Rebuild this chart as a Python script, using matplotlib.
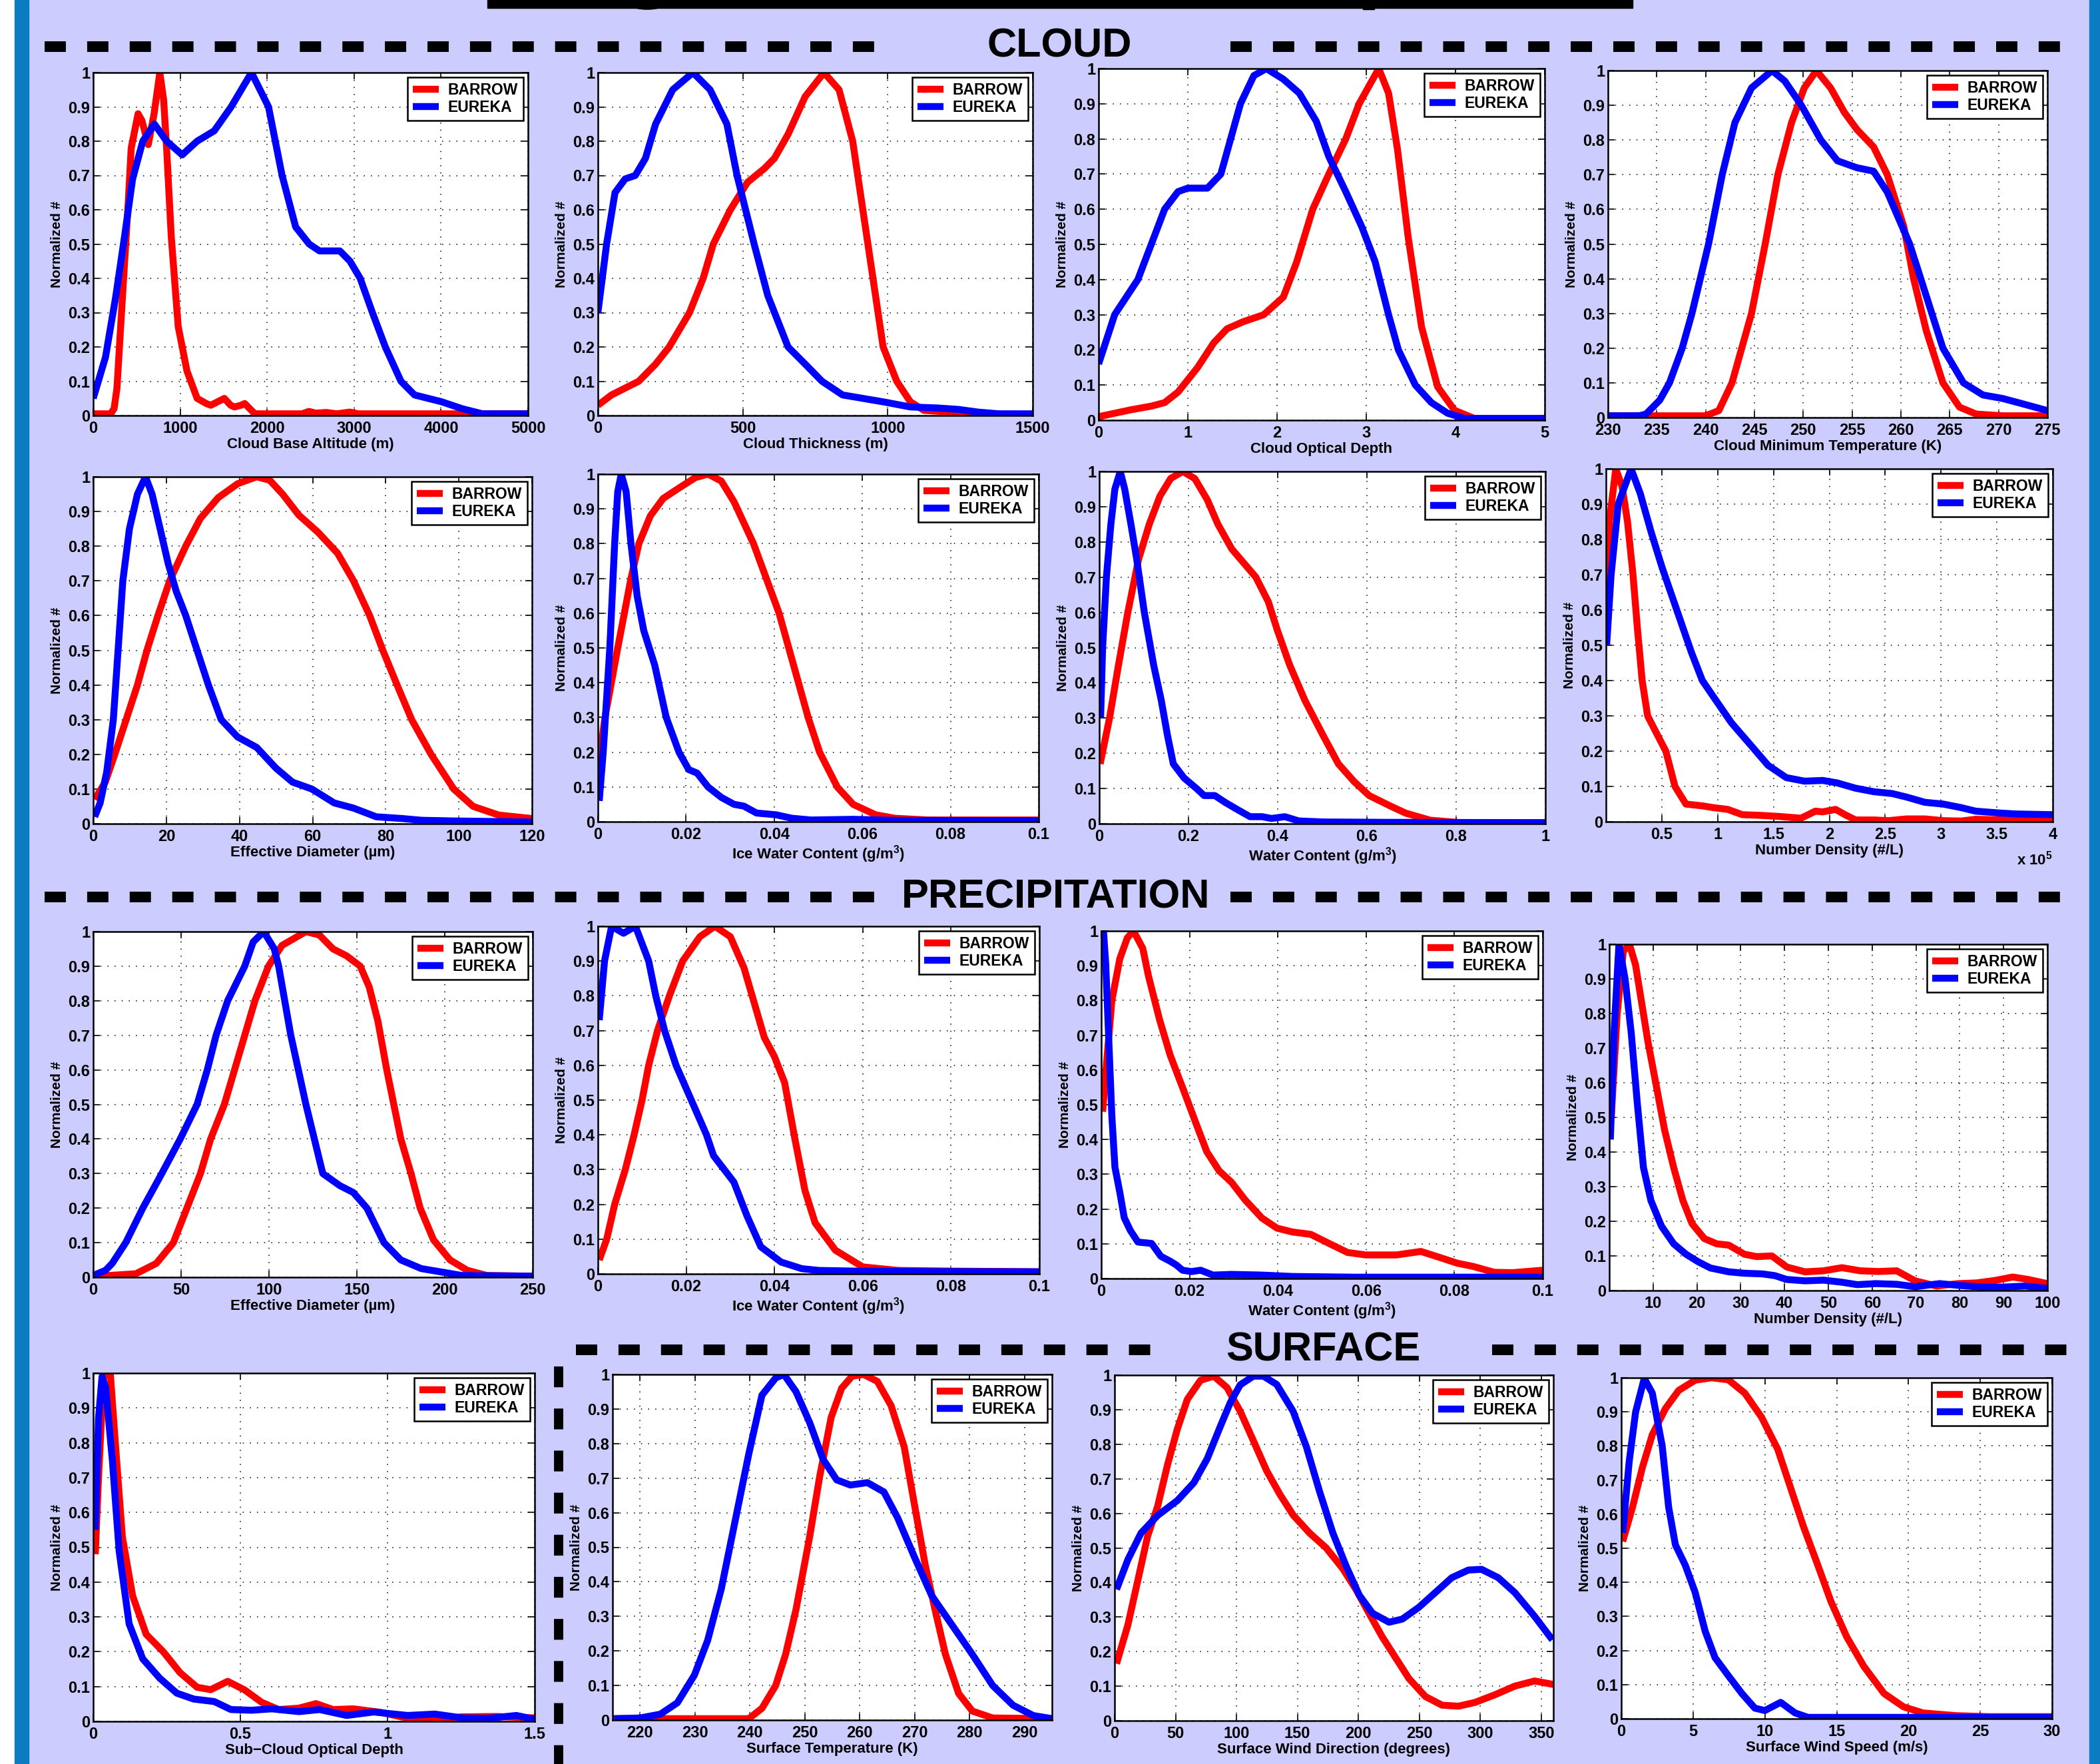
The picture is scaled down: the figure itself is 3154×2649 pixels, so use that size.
import matplotlib.pyplot as plt
from matplotlib.lines import Line2D
from matplotlib.patches import Rectangle, Ellipse

# canvas size in pixels (saved at dpi=100)
W, H = 3154, 2649
BG = '#CCCCFF'
EDGE = '#0B7CC1'

plt.rcParams['font.family'] = ['Liberation Sans', 'DejaVu Sans']
plt.rcParams['font.weight'] = 'bold'
plt.rcParams['mathtext.fontset'] = 'custom'
plt.rcParams['mathtext.rm'] = 'Liberation Sans:bold'
plt.rcParams['mathtext.bf'] = 'Liberation Sans:bold'
plt.rcParams['mathtext.default'] = 'bf'

# ---------------- CLOUD ----------------
# cloud base altitude (m)
base_alt_barrow_x = [0, 200, 240, 273, 336, 398, 437, 516, 560, 633, 700, 766, 810, 844, 898, 977, 1078, 1195, 1300, 1352,
                     1430, 1508, 1580, 1625, 1700, 1742, 1800, 1859, 1900, 2400, 2480, 2560, 2680, 2800, 2950, 3050, 5000]
base_alt_barrow_y = [0.005, 0.005, 0.02, 0.08, 0.345, 0.6, 0.78, 0.88, 0.86, 0.79, 0.88, 1.0, 0.92, 0.78, 0.52, 0.26, 0.13, 0.05, 0.035, 0.03,
                     0.04, 0.05, 0.03, 0.025, 0.03, 0.035, 0.02, 0.005, 0.005, 0.005, 0.012, 0.007, 0.009, 0.005, 0.01, 0.005, 0.005]
base_alt_eureka_x = [0, 141, 258, 359, 453, 570, 703, 844, 1023, 1195, 1391, 1586, 1820, 2016, 2172, 2328, 2484, 2602, 2836, 2953,
                     3070, 3211, 3359, 3539, 3695, 3852, 4008, 4242, 4477, 5000]
base_alt_eureka_y = [0.05, 0.17, 0.345, 0.52, 0.69, 0.8, 0.85, 0.8, 0.76, 0.8, 0.83, 0.9, 1.0, 0.9, 0.7, 0.55, 0.5, 0.48, 0.48, 0.45,
                     0.4, 0.3, 0.2, 0.1, 0.06, 0.05, 0.04, 0.02, 0.005, 0.005]

# cloud thickness (m)
thick_barrow_x = [0, 47, 94, 141, 199, 246, 316, 363, 398, 457, 516, 574, 609, 656, 715, 780, 832, 879, 914, 949,
                  984, 1031, 1078, 1125, 1219, 1266, 1312, 1500]
thick_barrow_y = [0.03, 0.06, 0.08, 0.1, 0.15, 0.2, 0.3, 0.4, 0.5, 0.6, 0.68, 0.72, 0.75, 0.82, 0.93, 1.0, 0.95, 0.8, 0.6, 0.4,
                  0.2, 0.1, 0.04, 0.015, 0.01, 0.01, 0.005, 0.003]
thick_eureka_x = [0, 30, 59, 94, 129, 164, 199, 258, 328, 387, 445, 480, 539, 586, 656, 715, 773, 844, 914, 984,
                  1078, 1172, 1242, 1312, 1383, 1500]
thick_eureka_y = [0.3, 0.5, 0.65, 0.69, 0.7, 0.75, 0.85, 0.95, 1.0, 0.95, 0.85, 0.7, 0.5, 0.35, 0.2, 0.15, 0.1, 0.06, 0.05, 0.04,
                  0.025, 0.022, 0.018, 0.01, 0.005, 0.005]

# cloud optical depth
tau_barrow_x = [0, 0.37, 0.59, 0.74, 0.89, 1.11, 1.29, 1.44, 1.62, 1.85, 2.07, 2.22, 2.40, 2.58, 2.77, 2.92, 3.14, 3.25, 3.35, 3.47,
                3.62, 3.80, 3.99, 4.21, 5.0]
tau_barrow_y = [0.01, 0.03, 0.04, 0.05, 0.08, 0.15, 0.22, 0.26, 0.28, 0.3, 0.35, 0.45, 0.6, 0.7, 0.8, 0.9, 1.0, 0.93, 0.77, 0.52,
                0.265, 0.095, 0.028, 0.005, 0.005]
tau_eureka_x = [0, 0.18, 0.44, 0.59, 0.74, 0.89, 1.0, 1.22, 1.37, 1.48, 1.59, 1.74, 1.88, 2.07, 2.25, 2.44, 2.58, 2.77, 2.95, 3.10,
                3.25, 3.36, 3.55, 3.73, 3.91, 4.10, 5.0]
tau_eureka_y = [0.16, 0.3, 0.4, 0.5, 0.6, 0.65, 0.66, 0.66, 0.7, 0.8, 0.9, 0.98, 1.0, 0.97, 0.93, 0.85, 0.75, 0.65, 0.55, 0.45,
                0.3, 0.2, 0.1, 0.05, 0.02, 0.005, 0.005]

# cloud minimum temperature (K)
tmin_barrow_x = [230, 240.0, 241.35, 242.7, 243.7, 244.7, 246.1, 247.4, 248.8, 250.1, 251.35, 252.8, 254.2, 255.5, 257.2, 258.6,
                 260.3, 261.3, 262.6, 264.3, 266.0, 267.7, 270.4, 275]
tmin_barrow_y = [0.005, 0.005, 0.02, 0.1, 0.2, 0.3, 0.5, 0.7, 0.85, 0.95, 1.0, 0.95, 0.88, 0.83, 0.78, 0.7,
                 0.55, 0.4, 0.25, 0.1, 0.03, 0.01, 0.005, 0.005]
tmin_eureka_x = [230, 233.2, 233.9, 235.3, 236.3, 237.6, 238.6, 240.3, 241.7, 243.0, 244.7, 246.8, 248.1, 249.8, 251.8, 253.5,
                 255.5, 257.2, 258.6, 260.9, 262.6, 264.3, 266.4, 268.4, 270.4, 272.4, 275]
tmin_eureka_y = [0.005, 0.005, 0.01, 0.05, 0.1, 0.2, 0.3, 0.5, 0.7, 0.85, 0.95, 1.0, 0.97, 0.9, 0.8, 0.74,
                 0.72, 0.71, 0.65, 0.5, 0.35, 0.2, 0.1, 0.065, 0.055, 0.04, 0.02]

# cloud effective diameter (um)
cdeff_barrow_x = [0.4, 3.3, 5.9, 9.0, 12.1, 14.7, 17.7, 20.9, 25.3, 29.3, 34.2, 39.5, 44.7, 48.3, 51.8, 56.2, 61.5, 66.8, 71.2, 75.6,
                  79.2, 83.1, 87.1, 92.4, 98.6, 103.9, 110.9, 120]
cdeff_barrow_y = [0.07, 0.12, 0.2, 0.3, 0.4, 0.5, 0.6, 0.7, 0.8, 0.88, 0.94, 0.98, 1.0, 0.99, 0.95, 0.89, 0.84, 0.78, 0.7, 0.6,
                  0.5, 0.4, 0.3, 0.2, 0.1, 0.05, 0.025, 0.015]
cdeff_eureka_x = [0.4, 1.9, 3.7, 5.5, 6.8, 8.1, 9.9, 12.1, 14.3, 16.1, 18.3, 20.5, 22.7, 25.3, 28.4, 31.5, 35.0, 39.5, 44.7, 50.0,
                  54.5, 59.8, 65.9, 71.2, 77.4, 84.5, 89.8, 98.6, 120]
cdeff_eureka_y = [0.02, 0.06, 0.15, 0.3, 0.5, 0.7, 0.85, 0.95, 1.0, 0.95, 0.85, 0.75, 0.67, 0.6, 0.5, 0.4, 0.3, 0.25, 0.22, 0.16,
                  0.12, 0.1, 0.06, 0.045, 0.02, 0.015, 0.01, 0.008, 0.005]

# cloud ice water content (g/m3)
ciwc_barrow_x = [0, 0.0016, 0.0045, 0.0075, 0.0093, 0.0119, 0.0148, 0.0184, 0.0221, 0.025, 0.028, 0.0309, 0.0353, 0.0382, 0.0411,
                 0.0433, 0.0455, 0.0477, 0.0503, 0.0543, 0.0579, 0.063, 0.0674, 0.0748, 0.1]
ciwc_barrow_y = [0.15, 0.3, 0.5, 0.7, 0.8, 0.88, 0.93, 0.96, 0.99, 1.0, 0.98, 0.92, 0.8, 0.7, 0.6,
                 0.5, 0.4, 0.3, 0.2, 0.1, 0.05, 0.02, 0.01, 0.005, 0.005]
ciwc_eureka_x = [0.0003, 0.0012, 0.0027, 0.0038, 0.0045, 0.0053, 0.0064, 0.0075, 0.0089, 0.0104, 0.0129, 0.0155, 0.0184, 0.0206,
                 0.0225, 0.025, 0.028, 0.0309, 0.0331, 0.036, 0.0404, 0.044, 0.0484, 0.0579, 0.0674, 0.1]
ciwc_eureka_y = [0.06, 0.2, 0.5, 0.8, 0.95, 1.0, 0.95, 0.8, 0.65, 0.55, 0.45, 0.3, 0.2, 0.15,
                 0.14, 0.1, 0.07, 0.05, 0.045, 0.025, 0.02, 0.01, 0.005, 0.007, 0.004, 0.003]

# cloud water content (g/m3)
cwc_barrow_x = [0.002, 0.023, 0.043, 0.064, 0.088, 0.112, 0.136, 0.16, 0.187, 0.214, 0.242, 0.266, 0.297, 0.324, 0.351, 0.379,
                0.399, 0.427, 0.461, 0.502, 0.536, 0.571, 0.605, 0.653, 0.687, 0.742, 0.81, 1.0]
cwc_barrow_y = [0.17, 0.3, 0.45, 0.6, 0.75, 0.85, 0.93, 0.98, 1.0, 0.98, 0.92, 0.85, 0.78, 0.74, 0.7, 0.63,
                0.55, 0.45, 0.35, 0.25, 0.17, 0.12, 0.08, 0.05, 0.03, 0.01, 0.003, 0.003]
cwc_eureka_x = [0.003, 0.0075, 0.016, 0.026, 0.035, 0.047, 0.057, 0.071, 0.084, 0.101, 0.122, 0.139, 0.153, 0.166, 0.19, 0.218,
                0.235, 0.259, 0.283, 0.31, 0.338, 0.365, 0.386, 0.416, 0.447, 0.502, 0.64, 1.0]
cwc_eureka_y = [0.3, 0.5, 0.7, 0.85, 0.95, 1.0, 0.95, 0.85, 0.75, 0.6, 0.45, 0.35, 0.25, 0.17, 0.13, 0.1,
                0.08, 0.08, 0.06, 0.04, 0.02, 0.02, 0.015, 0.02, 0.008, 0.005, 0.004, 0.003]

# cloud number density (x 1e5 #/L)
cnd_barrow_x = [0.003, 0.03, 0.088, 0.144, 0.193, 0.242, 0.281, 0.324, 0.373, 0.454, 0.536, 0.618, 0.716, 0.863, 0.96, 1.09, 1.22,
                1.39, 1.55, 1.745, 1.876, 1.94, 2.056, 2.14, 2.235, 2.4, 2.53, 2.69, 2.856, 3.02, 3.18, 3.31, 3.57, 3.74, 4.0]
cnd_barrow_y = [0.6, 0.85, 1.0, 0.95, 0.85, 0.7, 0.55, 0.4, 0.3, 0.25, 0.2, 0.1, 0.05, 0.045, 0.04, 0.035, 0.02,
                0.018, 0.015, 0.01, 0.03, 0.028, 0.035, 0.02, 0.005, 0.005, 0.003, 0.008, 0.008, 0.003, 0.002, 0.007, 0.005, 0.005, 0.007]
cnd_eureka_x = [0.006, 0.046, 0.11, 0.225, 0.307, 0.405, 0.503, 0.634, 0.765, 0.863, 0.993, 1.124, 1.288, 1.451, 1.614, 1.778,
                1.941, 2.07, 2.235, 2.4, 2.56, 2.69, 2.856, 3.02, 3.18, 3.31, 3.51, 3.67, 4.0]
cnd_eureka_y = [0.5, 0.7, 0.9, 1.0, 0.93, 0.82, 0.72, 0.6, 0.48, 0.4, 0.34, 0.28, 0.22, 0.16, 0.125, 0.115,
                0.117, 0.11, 0.095, 0.085, 0.08, 0.07, 0.055, 0.05, 0.04, 0.03, 0.025, 0.022, 0.02]

# ---------------- PRECIPITATION ----------------
pdeff_barrow_x = [0, 8.9, 24.3, 35.9, 45.6, 53.3, 61, 66.8, 74.6, 80.4, 86.2, 92, 99.7, 107.4, 121, 128.7, 136.4, 144.1, 151.9,
                  157, 162, 167, 171, 175, 180.8, 186, 193.6, 203, 212.8, 224, 250]
pdeff_barrow_y = [0.003, 0.005, 0.01, 0.04, 0.1, 0.2, 0.3, 0.4, 0.5, 0.6, 0.7, 0.8, 0.9, 0.96, 1.0, 0.99, 0.95, 0.93, 0.9,
                  0.84, 0.74, 0.6, 0.5, 0.4, 0.3, 0.2, 0.108, 0.05, 0.02, 0.005, 0.003]
pdeff_eureka_x = [0, 7, 10.8, 18.5, 28.2, 39, 49.5, 59.1, 64.9, 69.9, 76.5, 86.2, 91, 97, 103, 105.5, 112.4, 121, 130.6, 140.3,
                  148, 155.7, 165.4, 175, 186.6, 198.2, 209.8, 250]
pdeff_eureka_y = [0.005, 0.02, 0.04, 0.1, 0.2, 0.3, 0.4, 0.5, 0.6, 0.7, 0.8, 0.9, 0.97, 1.0, 0.95, 0.9, 0.7, 0.5, 0.3, 0.265,
                  0.245, 0.2, 0.1, 0.05, 0.025, 0.015, 0.005, 0.003]

piwc_barrow_x = [0.0003, 0.002, 0.0038, 0.0062, 0.0082, 0.01, 0.0115, 0.0135, 0.0162, 0.0192, 0.0231, 0.0265, 0.03, 0.0331,
                 0.0354, 0.0377, 0.04, 0.0423, 0.0446, 0.0469, 0.0492, 0.0538, 0.06, 0.068, 0.08, 0.1]
piwc_barrow_y = [0.04, 0.1, 0.2, 0.3, 0.4, 0.5, 0.6, 0.7, 0.8, 0.9, 0.97, 1.0, 0.97, 0.88,
                 0.78, 0.68, 0.625, 0.55, 0.39, 0.24, 0.147, 0.068, 0.02, 0.01, 0.008, 0.006]
piwc_eureka_x = [0.0003, 0.0015, 0.0031, 0.0058, 0.0085, 0.0115, 0.0131, 0.0151, 0.0177, 0.0215, 0.0246, 0.0262, 0.0308,
                 0.0338, 0.0369, 0.0415, 0.0462, 0.05, 0.0585, 0.0723, 0.1]
piwc_eureka_y = [0.73, 0.9, 1.0, 0.98, 1.0, 0.9, 0.8, 0.7, 0.6, 0.49, 0.4, 0.34, 0.264,
                 0.166, 0.078, 0.034, 0.015, 0.01, 0.008, 0.007, 0.006]

pwc_barrow_x = [0.0003, 0.0014, 0.0024, 0.0042, 0.0059, 0.0073, 0.0094, 0.0107, 0.0132, 0.0156, 0.0187, 0.0215, 0.0239, 0.0267,
                0.0295, 0.0326, 0.0364, 0.0398, 0.0433, 0.0475, 0.0516, 0.0558, 0.0599, 0.0669, 0.0724, 0.0766, 0.0807, 0.0842,
                0.089, 0.0932, 0.1]
pwc_barrow_y = [0.48, 0.65, 0.8, 0.92, 0.98, 1.0, 0.95, 0.87, 0.745, 0.643, 0.54, 0.445, 0.365, 0.31,
                0.277, 0.226, 0.174, 0.145, 0.134, 0.127, 0.101, 0.075, 0.068, 0.068, 0.078, 0.061, 0.044, 0.035,
                0.018, 0.017, 0.024]
pwc_eureka_x = [0.0005, 0.001, 0.0017, 0.0024, 0.0031, 0.0042, 0.0052, 0.0066, 0.0083, 0.0114, 0.0135, 0.0156, 0.017, 0.0184,
                0.0204, 0.0225, 0.0253, 0.0295, 0.0364, 0.0433, 0.0572, 0.1]
pwc_eureka_y = [1.0, 0.907, 0.687, 0.467, 0.32, 0.248, 0.175, 0.138, 0.105, 0.101, 0.064, 0.05, 0.039, 0.024,
                0.02, 0.024, 0.01, 0.012, 0.01, 0.006, 0.004, 0.004]

pnd_barrow_x = [0.45, 1.8, 3.2, 4.6, 6.0, 7.4, 8.8, 10.6, 12.6, 14.7, 16.8, 18.9, 21.7, 24.5, 27.3, 30.8, 33.6, 37.1, 40.5, 44.7,
                48.9, 53.1, 57.3, 61.5, 65.6, 69.8, 74.7, 79.6, 83.8, 88.0, 92.1, 95.6, 100]
pnd_barrow_y = [0.5, 0.8, 0.98, 1.0, 0.94, 0.83, 0.72, 0.6, 0.465, 0.355, 0.26, 0.193, 0.15, 0.135, 0.131, 0.105, 0.098, 0.1, 0.068, 0.054,
                0.057, 0.066, 0.057, 0.055, 0.057, 0.028, 0.013, 0.02, 0.022, 0.029, 0.039, 0.032, 0.02]
pnd_eureka_x = [0.24, 1.15, 2.2, 3.6, 5.0, 6.4, 7.8, 9.5, 11.9, 14.7, 17.5, 20.3, 23.1, 27.3, 30.8, 35.0, 37.8, 40.5, 44.7, 48.9,
                53.1, 56.6, 60.8, 65.6, 69.8, 75.4, 79.6, 85.1, 90.0, 94.9, 100]
pnd_eureka_y = [0.436, 0.76, 1.0, 0.9, 0.745, 0.54, 0.355, 0.26, 0.186, 0.135, 0.105, 0.083, 0.065, 0.054, 0.05, 0.048, 0.043, 0.032, 0.028, 0.03,
                0.024, 0.017, 0.02, 0.018, 0.011, 0.02, 0.015, 0.01, 0.01, 0.013, 0.006]

subtau_barrow_x = [0.007, 0.018, 0.035, 0.058, 0.076, 0.099, 0.134, 0.18, 0.238, 0.295, 0.353, 0.399, 0.457, 0.515, 0.572, 0.63,
                   0.699, 0.757, 0.815, 0.884, 0.976, 1.068, 1.161, 1.253, 1.369, 1.5]
subtau_barrow_y = [0.48, 0.7, 0.99, 1.0, 0.79, 0.53, 0.36, 0.25, 0.2, 0.14, 0.098, 0.091, 0.115, 0.09, 0.055, 0.034,
                   0.038, 0.051, 0.034, 0.036, 0.026, 0.009, 0.006, 0.013, 0.014, 0.01]
subtau_eureka_x = [0.007, 0.018, 0.03, 0.042, 0.065, 0.088, 0.122, 0.168, 0.226, 0.284, 0.342, 0.411, 0.468, 0.538, 0.607,
                   0.699, 0.769, 0.861, 0.953, 1.068, 1.161, 1.253, 1.346, 1.438, 1.5]
subtau_eureka_y = [0.55, 0.87, 0.99, 0.96, 0.75, 0.49, 0.28, 0.18, 0.124, 0.081, 0.064, 0.057, 0.034, 0.032, 0.036,
                   0.028, 0.034, 0.017, 0.027, 0.017, 0.021, 0.01, 0.009, 0.017, 0.006]

# ---------------- SURFACE ----------------
sfct_barrow_x = [215, 239.8, 242.2, 244.7, 246.5, 248.4, 250.9, 252.7, 254.8, 256.7, 258.6, 260.7, 263.2, 265.7, 268.1, 270.0,
                 271.9, 273.7, 275.6, 278.0, 280.5, 284.2, 295]
sfct_barrow_y = [0.004, 0.004, 0.034, 0.1, 0.19, 0.32, 0.532, 0.704, 0.876, 0.96, 0.995, 1.0, 0.98, 0.91, 0.79, 0.62,
                 0.45, 0.32, 0.19, 0.077, 0.026, 0.006, 0.004]
sfct_eureka_x = [215.3, 220, 223.7, 226.8, 229.9, 232.3, 234.8, 237.3, 239.8, 242.2, 244.7, 246.2, 248.4, 250.9, 253.3, 255.8,
                 258.3, 261.4, 264.4, 266.9, 270.0, 273.1, 276.8, 280.5, 284.2, 287.9, 291.6, 295]
sfct_eureka_y = [0.004, 0.006, 0.017, 0.05, 0.13, 0.23, 0.38, 0.575, 0.77, 0.94, 0.99, 1.0, 0.95, 0.86, 0.755, 0.695,
                 0.68, 0.687, 0.66, 0.585, 0.47, 0.36, 0.275, 0.19, 0.1, 0.043, 0.013, 0.004]

wdir_barrow_x = [1.6, 10.9, 19, 27.1, 35.3, 43.4, 51.5, 59.7, 70.5, 81.4, 92.2, 103.1, 113.9, 124.8, 135.6, 146.5, 160, 173.6,
                 187.2, 198, 208.9, 219.7, 230.6, 241.5, 255, 268.6, 282.1, 295.7, 312, 328.3, 344.6, 360]
wdir_barrow_y = [0.165, 0.277, 0.405, 0.534, 0.62, 0.74, 0.844, 0.93, 0.985, 0.997, 0.964, 0.895, 0.81, 0.723, 0.655, 0.595, 0.543, 0.5,
                 0.44, 0.38, 0.31, 0.242, 0.182, 0.122, 0.07, 0.045, 0.042, 0.053, 0.075, 0.1, 0.115, 0.105]
wdir_eureka_x = [1.6, 10.9, 21.7, 35.3, 51.5, 65.1, 76, 86.8, 95, 103.1, 113.9, 122.1, 133, 146.5, 157.4, 168.2, 179.1, 189.9,
                 200.8, 211.6, 225.2, 236.0, 249.6, 263.2, 276.7, 290.3, 301.1, 314.7, 328.3, 344.6, 359.2]
wdir_eureka_y = [0.38, 0.466, 0.543, 0.594, 0.637, 0.689, 0.758, 0.852, 0.921, 0.972, 0.997, 0.997, 0.973, 0.895, 0.792, 0.663, 0.543, 0.448,
                 0.363, 0.311, 0.285, 0.294, 0.328, 0.371, 0.414, 0.436, 0.438, 0.414, 0.371, 0.302, 0.234]

wspd_barrow_x = [0.1, 0.78, 1.47, 2.16, 3.08, 4.0, 5.15, 6.3, 7.46, 8.6, 9.76, 10.9, 11.8, 12.7, 13.7, 14.6, 15.7, 16.9, 18.3,
                 19.65, 21.0, 23.3, 25.6, 30]
wspd_barrow_y = [0.52, 0.62, 0.737, 0.833, 0.91, 0.963, 0.993, 1.0, 0.994, 0.955, 0.885, 0.79, 0.676, 0.562, 0.449, 0.344, 0.24, 0.153, 0.074,
                 0.035, 0.017, 0.009, 0.006, 0.006]
wspd_eureka_x = [0.1, 0.55, 1.0, 1.6, 2.16, 2.85, 3.3, 3.77, 4.46, 5.15, 5.84, 6.53, 7.46, 8.4, 9.3, 10.0, 11.1, 12.1, 13.0, 30]
wspd_eureka_y = [0.545, 0.754, 0.9, 0.998, 0.955, 0.8, 0.62, 0.51, 0.45, 0.37, 0.257, 0.179, 0.126, 0.074, 0.031, 0.024, 0.048, 0.017, 0.004, 0.004]

y_ticks = [0, 0.1, 0.2, 0.3, 0.4, 0.5, 0.6, 0.7, 0.8, 0.9, 1]

fig = plt.figure(figsize=(W / 100, H / 100), dpi=100, facecolor=BG)


def px_box(l, r, t, b):
    # pixel box (left, right, top, bottom) -> figure fraction rect
    return [l / W, 1 - b / H, (r - l) / W, (b - t) / H]


def panel(box, bx, by, ex, ey, xlim, xticks, xlabel):
    ax = fig.add_axes(px_box(*box))
    ax.plot(bx, by, color='#FF0000', lw=7.5, label='BARROW', solid_joinstyle='round', solid_capstyle='butt')
    ax.plot(ex, ey, color='#0000FF', lw=7.5, label='EUREKA', solid_joinstyle='round', solid_capstyle='butt')
    ax.set_xlim(xlim)
    ax.set_ylim(0, 1)
    ax.set_xticks(xticks)
    ax.set_xticklabels([f'{v:g}' for v in xticks])
    ax.set_yticks(y_ticks)
    ax.set_yticklabels([f'{v:g}' for v in y_ticks])
    ax.set_axisbelow(True)
    ax.grid(True, color='k', linestyle=(0, (1, 6)), linewidth=1.1)
    ax.tick_params(direction='in', top=True, right=True, length=7, width=1.2, labelsize=17)
    ax.tick_params(axis='x', pad=6)
    ax.tick_params(axis='y', pad=3.5)
    ax.set_xlabel(xlabel, fontsize=16, fontweight='bold', labelpad=1)
    ax.set_ylabel('Normalized #', fontsize=15, fontweight='bold', labelpad=5)
    for s in ax.spines.values():
        s.set_linewidth(1.8)
    leg = ax.legend(loc='upper right', prop={'weight': 'bold', 'size': 16.5}, fancybox=False,
                    edgecolor='k', framealpha=1, borderpad=0.35, handlelength=1.7, handletextpad=0.6,
                    labelspacing=0.15, borderaxespad=0.3)
    leg.get_frame().set_linewidth(1.8)
    return ax


iwc_ticks = [0, 0.02, 0.04, 0.06, 0.08, 0.1]

# row 1 - cloud
panel((140, 793, 109, 624), base_alt_barrow_x, base_alt_barrow_y, base_alt_eureka_x, base_alt_eureka_y,
      (0, 5000), [0, 1000, 2000, 3000, 4000, 5000], 'Cloud Base Altitude (m)')
panel((898, 1551, 109, 624), thick_barrow_x, thick_barrow_y, thick_eureka_x, thick_eureka_y,
      (0, 1500), [0, 500, 1000, 1500], 'Cloud Thickness (m)')
panel((1650, 2320, 103, 631), tau_barrow_x, tau_barrow_y, tau_eureka_x, tau_eureka_y,
      (0, 5), [0, 1, 2, 3, 4, 5], 'Cloud Optical Depth')
panel((2415, 3075, 106, 627), tmin_barrow_x, tmin_barrow_y, tmin_eureka_x, tmin_eureka_y,
      (230, 275), [230, 235, 240, 245, 250, 255, 260, 265, 270, 275], 'Cloud Minimum Temperature (K)')

# row 2 - cloud
panel((140, 799, 716, 1237), cdeff_barrow_x, cdeff_barrow_y, cdeff_eureka_x, cdeff_eureka_y,
      (0, 120), [0, 20, 40, 60, 80, 100, 120], 'Effective Diameter (\u00b5m)')
panel((898, 1560, 712, 1234), ciwc_barrow_x, ciwc_barrow_y, ciwc_eureka_x, ciwc_eureka_y,
      (0, 0.1), iwc_ticks, 'Ice Water Content (g/m$^3$)')
panel((1651, 2321, 708, 1237), cwc_barrow_x, cwc_barrow_y, cwc_eureka_x, cwc_eureka_y,
      (0, 1), [0, 0.2, 0.4, 0.6, 0.8, 1], 'Water Content (g/m$^3$)')
panel((2412, 3083, 704, 1234), cnd_barrow_x, cnd_barrow_y, cnd_eureka_x, cnd_eureka_y,
      (0, 4), [0.5, 1, 1.5, 2, 2.5, 3, 3.5, 4], 'Number Density (#/L)')
fig.text(3083 / W, 1 - 1299 / H, 'x 10$^5$', ha='right', va='baseline', fontsize=16, fontweight='bold')

# row 3 - precipitation
panel((140, 800, 1399, 1918), pdeff_barrow_x, pdeff_barrow_y, pdeff_eureka_x, pdeff_eureka_y,
      (0, 250), [0, 50, 100, 150, 200, 250], 'Effective Diameter (\u00b5m)')
panel((898, 1561, 1391, 1913), piwc_barrow_x, piwc_barrow_y, piwc_eureka_x, piwc_eureka_y,
      (0, 0.1), iwc_ticks, 'Ice Water Content (g/m$^3$)')
panel((1654, 2317, 1398, 1920), pwc_barrow_x, pwc_barrow_y, pwc_eureka_x, pwc_eureka_y,
      (0, 0.1), iwc_ticks, 'Water Content (g/m$^3$)')
panel((2417, 3075, 1418, 1938), pnd_barrow_x, pnd_barrow_y, pnd_eureka_x, pnd_eureka_y,
      (0, 100), [10, 20, 30, 40, 50, 60, 70, 80, 90, 100], 'Number Density (#/L)')

# row 4 - sub-cloud + surface
panel((140, 803, 2062, 2585), subtau_barrow_x, subtau_barrow_y, subtau_eureka_x, subtau_eureka_y,
      (0, 1.5), [0, 0.5, 1, 1.5], 'Sub\u2212Cloud Optical Depth')
panel((920, 1580, 2064, 2583), sfct_barrow_x, sfct_barrow_y, sfct_eureka_x, sfct_eureka_y,
      (215, 295), [220, 230, 240, 250, 260, 270, 280, 290], 'Surface Temperature (K)')
panel((1674, 2333, 2065, 2584), wdir_barrow_x, wdir_barrow_y, wdir_eureka_x, wdir_eureka_y,
      (0, 360), [0, 50, 100, 150, 200, 250, 300, 350], 'Surface Wind Direction (degrees)')
panel((2435, 3082, 2069, 2581), wspd_barrow_x, wspd_barrow_y, wspd_eureka_x, wspd_eureka_y,
      (0, 30), [0, 5, 10, 15, 20, 25, 30], 'Surface Wind Speed (m/s)')

# ---- poster decorations: side strips, top rule, section headers and dashed dividers
fig.patches.append(Rectangle((0, 0), 22 / W, 1, transform=fig.transFigure, color='white', zorder=0))
fig.patches.append(Rectangle((22 / W, 0), 21 / W, 1, transform=fig.transFigure, color=EDGE, zorder=0))
fig.patches.append(Rectangle((3138 / W, 0), 16 / W, 1, transform=fig.transFigure, color=EDGE, zorder=0))
fig.patches.append(Rectangle((732 / W, 1 - 12 / H), 1720 / W, 12 / H, transform=fig.transFigure, color='k'))
fig.patches.append(Ellipse((972 / W, 1 - 8 / H), 46 / W, 12 / H, transform=fig.transFigure, color='k'))
fig.patches.append(Rectangle((2047 / W, 1 - 14 / H), 17 / W, 14 / H, transform=fig.transFigure, color='k'))


def hdash(x0, x1, y):
    fig.add_artist(Line2D([x0 / W, x1 / W], [1 - y / H, 1 - y / H], transform=fig.transFigure,
                          color='k', lw=11.5, dashes=(2, 2), dash_capstyle='butt'))


title_font = ['Liberation Sans Narrow', 'Liberation Sans', 'DejaVu Sans']
hdash(67, 1315, 70)
hdash(1848, 3094, 70)
fig.text(1591 / W, 1 - 86 / H, 'CLOUD', ha='center', va='baseline', fontsize=44, fontweight='bold', family=title_font)

hdash(67, 1315, 1347)
hdash(1848, 3094, 1347)
fig.text(1586 / W, 1 - 1364 / H, 'PRECIPITATION', ha='center', va='baseline', fontsize=44, fontweight='bold',
         family=title_font)

hdash(865, 1729, 2027)
hdash(2241, 3104, 2027)
fig.text(1987 / W, 1 - 2043 / H, 'SURFACE', ha='center', va='baseline', fontsize=44, fontweight='bold',
         family=title_font)

# vertical divider between sub-cloud and surface panels
fig.add_artist(Line2D([839 / W, 839 / W], [1 - 2052 / H, 0], transform=fig.transFigure,
                      color='k', lw=10, dashes=(2.25, 2.3), dash_capstyle='butt'))

fig.savefig('out.png', dpi=100, facecolor=BG)
